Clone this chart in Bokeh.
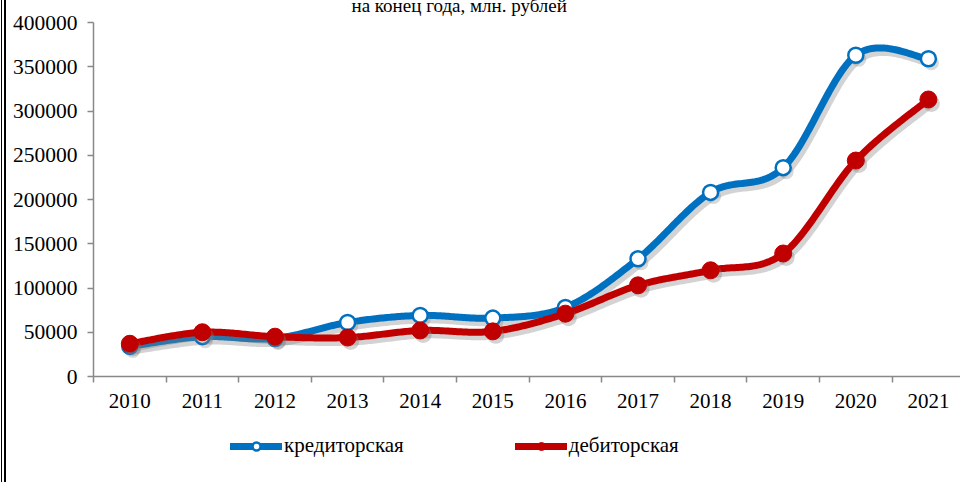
import numpy as np
from bokeh.plotting import figure
from bokeh.layouts import column
from bokeh.models import (Range1d, LinearAxis, FixedTicker, Legend, LegendItem,
                          Title, BasicTickFormatter)
from bokeh.embed import file_html
from bokeh.resources import INLINE

# ---- data ----
years = ["2010", "2011", "2012", "2013", "2014", "2015",
         "2016", "2017", "2018", "2019", "2020", "2021"]
kredit = [34000, 45000, 43000, 61000, 69000, 66000,
          78000, 133000, 208000, 236000, 363000, 359000]
debit = [37000, 50000, 45000, 44000, 52000, 51000,
         71000, 103000, 120000, 139000, 244000, 313000]
y_ticks = [0, 50000, 100000, 150000, 200000, 250000, 300000, 350000, 400000]
series_names = ["кредиторская", "дебиторская"]
title_text = "на конец года, млн. рублей"

FONT = "Liberation Serif"
BLUE = "#0070C0"
RED = "#C00000"
AXIS = "#898989"


def smooth(xs, ys, n=40):
    P = np.column_stack([xs, ys]).astype(float)
    out = []
    for i in range(len(P) - 1):
        p0 = P[i - 1] if i > 0 else P[i]
        p1 = P[i]
        p2 = P[i + 1]
        p3 = P[i + 2] if i + 2 < len(P) else P[i + 1]
        b1 = p1 + (p2 - p0) / 6.0
        b2 = p2 - (p3 - p1) / 6.0
        t = np.linspace(0, 1, n)[:, None]
        seg = (1 - t) ** 3 * p1 + 3 * (1 - t) ** 2 * t * b1 + 3 * (1 - t) * t ** 2 * b2 + t ** 3 * p2
        out.append(seg if i == 0 else seg[1:])
    a = np.vstack(out)
    return a[:, 0], a[:, 1]


xpos = np.arange(len(years))
px_per_cat = 72.6
frame_left = 93
FRAME_W, FRAME_H = 867, 354
TOP_BORDER = 40
TOP_SHIFT = TOP_BORDER - 22
BOTTOM_BORDER = 50
LEG_H = 482 - (22 + FRAME_H + BOTTOM_BORDER)

p = figure(frame_width=FRAME_W, frame_height=FRAME_H, output_backend="svg",
           toolbar_location=None, tools="",
           x_range=Range1d(-0.5, -0.5 + FRAME_W / px_per_cat),
           y_range=Range1d(0, 400000),
           x_axis_location=None, y_axis_location=None,
           min_border_left=frame_left, min_border_right=0,
           min_border_top=TOP_BORDER, min_border_bottom=BOTTOM_BORDER)
p.outline_line_color = None
p.background_fill_color = None
p.border_fill_color = None
for g in p.grid:
    g.visible = False

# title (partly cut off at the top, as in the reference)
p.title = Title(text=title_text, align="left", offset=258, standoff=14,
                text_font=FONT, text_font_size="19px", text_font_style="normal",
                text_color="#000000")

# axes
xaxis = LinearAxis(ticker=FixedTicker(ticks=list(xpos), minor_ticks=[i - 0.5 for i in range(len(years) + 1)]),
                   major_label_overrides={int(i): y for i, y in zip(xpos, years)})
xaxis.major_tick_out = 0
xaxis.major_tick_in = 0
xaxis.minor_tick_out = 6
xaxis.minor_tick_in = 0
xaxis.minor_tick_line_color = AXIS
xaxis.minor_tick_line_width = 1.5
xaxis.axis_line_color = AXIS
xaxis.axis_line_width = 1.5
xaxis.major_label_text_font = FONT
xaxis.major_label_text_font_size = "21px"
xaxis.major_label_text_color = "#000000"
xaxis.major_label_standoff = 11
p.add_layout(xaxis, "below")

yaxis = LinearAxis(ticker=FixedTicker(ticks=y_ticks, minor_ticks=[]),
                   formatter=BasicTickFormatter(use_scientific=False))
yaxis.major_tick_out = 6
yaxis.major_tick_in = 0
yaxis.minor_tick_out = 0
yaxis.minor_tick_in = 0
yaxis.major_tick_line_color = AXIS
yaxis.major_tick_line_width = 1.5
yaxis.axis_line_color = AXIS
yaxis.axis_line_width = 1.5
yaxis.major_label_text_font = FONT
yaxis.major_label_text_font_size = "21.5px"
yaxis.major_label_text_color = "#000000"
yaxis.major_label_standoff = 10
p.add_layout(yaxis, "left")

# shadow offsets (3px right, 4px down)
sdx = 3.0 / px_per_cat
sdy = -4.0 * 400000 / FRAME_H


def draw_series(fig, xs, vals, color, hollow, shadow=True):
    sx, sy = smooth(xs, vals)
    if shadow:
        fig.line(sx + sdx, sy + sdy, line_color="#808080", line_alpha=0.35, line_width=8, line_cap="round")
    ln = fig.line(sx, sy, line_color=color, line_width=7, line_cap="round", line_join="round")
    if hollow:
        if shadow:
            fig.scatter(xs + sdx, np.array(vals) + sdy, size=15, fill_color="#808080", fill_alpha=0.3, line_color=None)
        mk = fig.scatter(xs, vals, size=15, fill_color="#ffffff", line_color=color, line_width=2.5)
    else:
        if shadow:
            fig.scatter(xs + sdx, np.array(vals) + sdy, size=17, fill_color="#808080", fill_alpha=0.35, line_color=None)
        mk = fig.scatter(xs, vals, size=17, fill_color=color, line_color=color)
    return ln, mk


draw_series(p, xpos, kredit, BLUE, True)
draw_series(p, xpos, debit, RED, False)

# ---- legend strip (separate figure, same styles; its ranges keep the series out of view) ----
lp = figure(frame_width=960, frame_height=LEG_H, output_backend="svg",
            toolbar_location=None, tools="",
            x_range=Range1d(1000, 1001), y_range=Range1d(-2e6, -1e6),
            x_axis_location=None, y_axis_location=None,
            min_border=0, min_border_left=0, min_border_right=0,
            min_border_top=0, min_border_bottom=0)
lp.outline_line_color = None
lp.background_fill_color = None
lp.border_fill_color = None
for g in lp.grid:
    g.visible = False
lbl, lbm = draw_series(lp, xpos, kredit, BLUE, True, shadow=False)
lrl, lrm = draw_series(lp, xpos, debit, RED, False, shadow=False)

legend = Legend(items=[LegendItem(label=series_names[0], renderers=[lbl, lbm]),
                       LegendItem(label=series_names[1], renderers=[lrl, lrm])],
                orientation="horizontal", location=(230, LEG_H - 19 - 10 - 3),
                glyph_width=52, glyph_height=20, label_height=20, label_standoff=2, spacing=111,
                padding=0, margin=0, border_line_color=None, background_fill_alpha=0,
                label_text_font=FONT, label_text_font_size="21px", label_text_color="#000000")
lp.add_layout(legend)

layout = column(p, lp, spacing=0)
layout.styles = {
    "margin-top": "-%dpx" % TOP_SHIFT,
    "background": "linear-gradient(to right, #ffffff 0px, #ffffff 1px, #000000 1px, #000000 2.5px, "
                  "#ffffff 2.5px, #ffffff 4.5px, #000000 4.5px, #000000 6px, #ffffff 6px)",
}

open("out.html", "w").write(file_html(layout, INLINE))
